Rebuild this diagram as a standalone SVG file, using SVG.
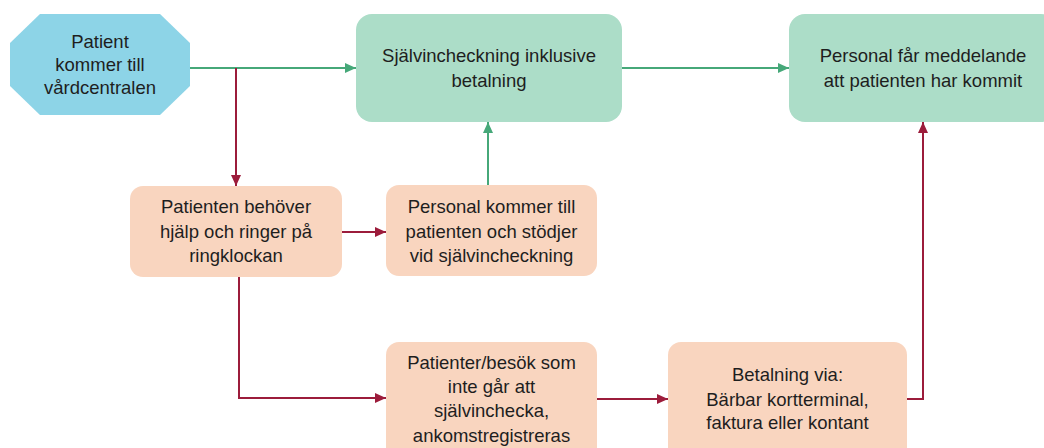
<svg xmlns="http://www.w3.org/2000/svg" width="1044" height="448" viewBox="0 0 1044 448">
<defs>
<style>
text{font-family:"Liberation Sans",Arial,sans-serif;font-size:18.5px;fill:#1e1e1e;text-anchor:middle}
.g{fill:#acddc8}
.p{fill:#f9d5bf}
.b{fill:#8dd4e7}
.cg{fill:none;stroke:#46a879;stroke-width:2}
.cr{fill:none;stroke:#9c1c3b;stroke-width:2}
</style>
<marker id="ag" markerUnits="userSpaceOnUse" markerWidth="12" markerHeight="12" refX="11" refY="6" orient="auto"><path d="M0,1 L11,6 L0,11 z" fill="#46a879"/></marker>
<marker id="ar" markerUnits="userSpaceOnUse" markerWidth="12" markerHeight="12" refX="11" refY="6" orient="auto"><path d="M0,1 L11,6 L0,11 z" fill="#9c1c3b"/></marker>
</defs>
<rect width="1044" height="448" fill="#ffffff"/>
<g id="connectors">
<path class="cg" d="M187,68 H356" marker-end="url(#ag)"/>
<path class="cr" d="M236,68 V186" marker-end="url(#ar)"/>
<path class="cg" d="M622,68 H789" marker-end="url(#ag)"/>
<path class="cg" d="M488,185 V122" marker-end="url(#ag)"/>
<path class="cr" d="M342,232 H386" marker-end="url(#ar)"/>
<path class="cr" d="M239,277 V398 H386" marker-end="url(#ar)"/>
<path class="cr" d="M597,399 H668" marker-end="url(#ar)"/>
<path class="cr" d="M907,399 H923 V122" marker-end="url(#ar)"/>
</g>
<g id="start">
<polygon class="b" points="40,14 160,14 190,43 190,86 160,115 40,115 10,86 10,43"/>
<text x="100" y="48">Patient</text>
<text x="100" y="71">kommer till</text>
<text x="100" y="94">vårdcentralen</text>
</g>
<g id="selfcheckin">
<rect class="g" x="356" y="14" width="266" height="108" rx="16"/>
<text x="489" y="62">Självincheckning inklusive</text>
<text x="489" y="87">betalning</text>
</g>
<g id="staffnotified">
<rect class="g" x="789" y="14" width="268" height="108" rx="16"/>
<text x="923" y="62">Personal får meddelande</text>
<text x="923" y="87">att patienten har kommit</text>
</g>
<g id="needshelp">
<rect class="p" x="130" y="186" width="212" height="91" rx="13"/>
<text x="236" y="213">Patienten behöver</text>
<text x="236" y="238">hjälp och ringer på</text>
<text x="236" y="262">ringklockan</text>
</g>
<g id="staffhelps">
<rect class="p" x="386" y="185" width="211" height="91" rx="13"/>
<text x="491.5" y="213">Personal kommer till</text>
<text x="491.5" y="238">patienten och stödjer</text>
<text x="491.5" y="262">vid självincheckning</text>
</g>
<g id="manualreg">
<rect class="p" x="386" y="342" width="211" height="120" rx="13"/>
<text x="491.5" y="369">Patienter/besök som</text>
<text x="491.5" y="393">inte går att</text>
<text x="491.5" y="417">självinchecka,</text>
<text x="491.5" y="442">ankomstregistreras</text>
</g>
<g id="payment">
<rect class="p" x="668" y="342" width="239" height="120" rx="13"/>
<text x="787.5" y="381">Betalning via:</text>
<text x="787.5" y="406">Bärbar kortterminal,</text>
<text x="787.5" y="429">faktura eller kontant</text>
</g>
</svg>
